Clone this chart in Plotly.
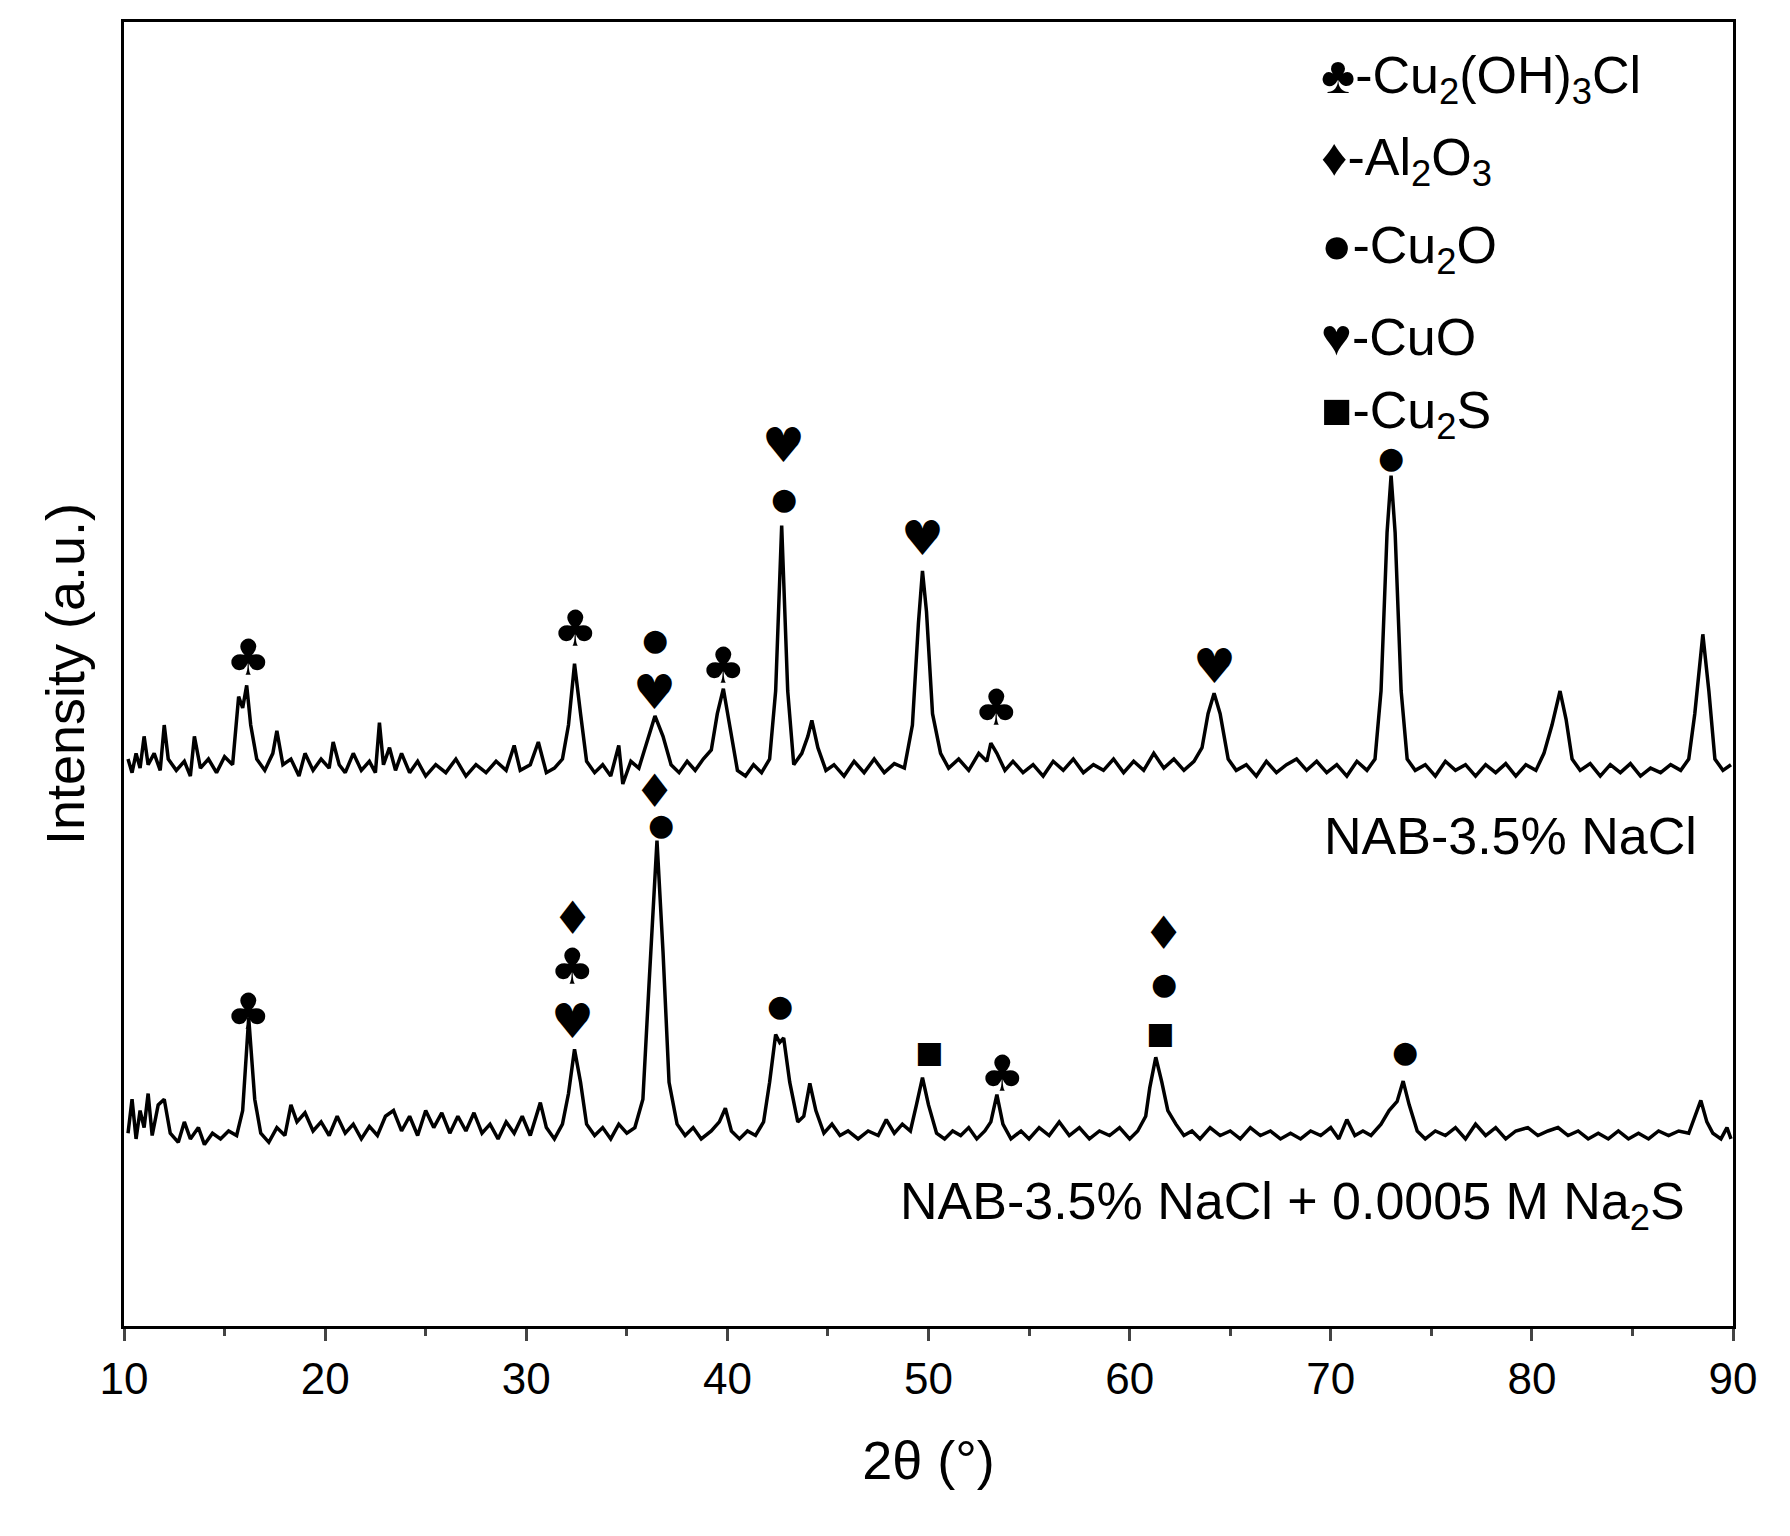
import plotly.graph_objects as go

# XRD patterns: (2theta, intensity a.u., offset included)
top_pts = [(10.2,500),(10.4,488),(10.6,505),(10.8,492),(11.0,520),(11.2,495),(11.5,505),(11.8,490),(12.0,530),(12.2,500),
    (12.6,490),(13.0,498),(13.3,485),(13.5,520),(13.8,492),(14.2,500),(14.6,488),(15.0,502),(15.4,495),(15.7,555),
    (15.9,545),(16.1,565),(16.3,530),(16.6,500),(17.0,490),(17.4,505),(17.6,525),(17.9,495),(18.3,500),(18.7,485),
    (19.0,505),(19.4,490),(19.8,500),(20.2,492),(20.4,515),(20.7,495),(21.0,488),(21.4,505),(21.8,490),(22.2,498),
    (22.5,488),(22.7,532),(22.9,495),(23.2,510),(23.5,490),(23.8,505),(24.2,488),(24.6,498),(25.0,485),(25.5,495),
    (26.0,488),(26.5,500),(27.0,485),(27.5,495),(28.0,488),(28.5,498),(29.0,490),(29.4,512),(29.7,490),(30.2,495),
    (30.6,515),(31.0,488),(31.4,492),(31.8,500),(32.1,530),(32.4,584),(32.7,540),(33.0,498),(33.4,488),(33.8,495),
    (34.2,485),(34.6,512),(34.8,478),(35.2,498),(35.6,492),(36.0,515),(36.4,538),(36.8,520),(37.2,495),(37.6,488),
    (38.0,498),(38.4,490),(38.8,500),(39.2,508),(39.5,540),(39.8,562),(40.1,530),(40.5,490),(40.9,485),(41.3,495),
    (41.7,488),(42.1,500),(42.4,560),(42.7,706),(43.0,560),(43.3,495),(43.7,505),(44.0,520),(44.2,534),(44.5,510),
    (44.9,490),(45.3,495),(45.8,485),(46.3,498),(46.8,488),(47.3,500),(47.8,488),(48.3,496),(48.8,492),(49.2,530),
    (49.5,620),(49.7,666),(49.9,630),(50.2,540),(50.6,505),(51.0,492),(51.5,500),(52.0,490),(52.5,505),(52.9,498),
    (53.1,514),(53.4,505),(53.8,490),(54.2,498),(54.7,488),(55.2,495),(55.7,485),(56.2,498),(56.7,490),(57.2,500),
    (57.7,488),(58.2,495),(58.7,490),(59.2,500),(59.7,488),(60.2,498),(60.7,490),(61.2,505),(61.7,492),(62.2,500),
    (62.7,490),(63.2,498),(63.6,510),(63.9,540),(64.2,558),(64.5,540),(64.9,500),(65.3,490),(65.8,495),(66.3,485),
    (66.8,498),(67.3,488),(67.8,495),(68.3,500),(68.8,490),(69.3,498),(69.8,488),(70.3,495),(70.8,485),(71.3,498),
    (71.8,490),(72.2,500),(72.5,560),(72.8,700),(73.0,750),(73.2,700),(73.5,560),(73.8,500),(74.2,490),(74.7,495),
    (75.2,485),(75.7,498),(76.2,490),(76.7,495),(77.2,485),(77.7,495),(78.2,488),(78.7,496),(79.2,485),(79.7,495),
    (80.2,490),(80.6,505),(81.0,530),(81.4,560),(81.7,535),(82.0,500),(82.4,490),(82.9,496),(83.4,485),(83.9,495),
    (84.4,488),(84.9,496),(85.4,485),(85.9,492),(86.4,488),(86.9,495),(87.4,490),(87.8,500),(88.1,540),(88.5,610),
    (88.8,560),(89.1,500),(89.5,490),(89.9,495)]

bot_pts = [(10.2,170),(10.4,200),(10.6,165),(10.8,190),(11.0,175),(11.2,205),(11.4,168),(11.7,195),(12.0,200),(12.3,170),
    (12.7,162),(13.0,180),(13.3,165),(13.7,175),(14.0,160),(14.4,170),(14.8,165),(15.2,172),(15.6,168),(15.9,190),
    (16.2,272),(16.5,200),(16.8,170),(17.2,162),(17.6,175),(18.0,168),(18.3,195),(18.6,180),(19.0,188),(19.4,172),
    (19.8,180),(20.2,168),(20.6,185),(21.0,170),(21.4,178),(21.8,165),(22.2,176),(22.6,168),(23.0,185),(23.4,190),
    (23.8,172),(24.2,185),(24.6,168),(25.0,190),(25.4,175),(25.8,188),(26.2,170),(26.6,185),(27.0,172),(27.4,188),
    (27.8,170),(28.2,178),(28.6,165),(29.0,180),(29.4,170),(29.8,185),(30.2,168),(30.7,197),(31.0,175),(31.4,165),
    (31.8,178),(32.1,205),(32.4,244),(32.7,215),(33.0,178),(33.4,168),(33.8,175),(34.2,165),(34.6,178),(35.0,170),
    (35.4,175),(35.8,200),(36.1,300),(36.5,428),(36.8,330),(37.1,215),(37.5,178),(37.9,168),(38.3,175),(38.7,165),
    (39.2,172),(39.6,180),(39.9,192),(40.2,172),(40.6,165),(41.0,172),(41.4,168),(41.8,180),(42.1,215),(42.4,257),
    (42.6,250),(42.8,254),(43.1,215),(43.5,180),(43.8,185),(44.1,214),(44.4,190),(44.8,170),(45.2,178),(45.6,168),
    (46.0,172),(46.5,165),(47.0,172),(47.5,168),(47.9,182),(48.3,170),(48.7,178),(49.1,172),(49.4,195),(49.7,219),
    (50.0,195),(50.4,170),(50.8,165),(51.2,172),(51.6,168),(52.0,175),(52.4,165),(52.8,172),(53.1,180),(53.4,204),
    (53.7,178),(54.1,165),(54.6,172),(55.0,165),(55.5,175),(56.0,168),(56.5,180),(57.0,168),(57.5,175),(58.0,165),
    (58.5,172),(59.0,168),(59.5,175),(60.0,165),(60.4,172),(60.8,185),(61.0,210),(61.3,237),(61.6,215),(61.9,190),
    (62.3,178),(62.7,168),(63.1,172),(63.5,165),(64.0,175),(64.5,168),(65.0,172),(65.5,165),(66.0,175),(66.5,168),
    (67.0,172),(67.5,165),(68.0,170),(68.5,165),(69.0,172),(69.5,168),(70.0,175),(70.4,165),(70.8,182),(71.2,168),
    (71.6,172),(72.0,168),(72.5,178),(72.9,190),(73.3,198),(73.6,216),(73.9,195),(74.3,172),(74.7,165),(75.2,172),
    (75.7,168),(76.2,175),(76.7,165),(77.2,178),(77.7,168),(78.2,175),(78.7,165),(79.2,172),(79.8,175),(80.3,168),
    (80.8,172),(81.3,175),(81.8,168),(82.3,172),(82.8,165),(83.3,170),(83.8,165),(84.3,172),(84.8,165),(85.3,170),
    (85.8,165),(86.3,172),(86.8,168),(87.3,172),(87.8,170),(88.1,185),(88.4,199),(88.7,180),(89.0,170),(89.4,165),
    (89.7,175),(89.9,165)]

# phase marks: (symbol, 2theta, height)
top_marks = [("♣",16.2,589),("♣",32.45,615),("●",36.4,605),("♥",36.4,559),("♣",39.8,582),("♥",42.8,777),
             ("●",42.8,730),("♥",49.7,695),("♣",53.4,545),("♥",64.2,582),("●",73.0,766)]
bot_marks = [("♣",16.2,277),("♦",32.3,360),("♣",32.3,317),("♥",32.3,269),("♦",36.4,472),("●",36.7,442),
             ("●",42.6,283),("■",50.0,242),("♣",53.7,222),("♦",61.7,347),("●",61.7,302),("■",61.5,259),
             ("●",73.7,242)]
mark_size = {"♣": 50, "♦": 46, "♥": 48, "●": 30, "■": 30}
legend_items = ["♣-Cu<sub>2</sub>(OH)<sub>3</sub>Cl", "♦-Al<sub>2</sub>O<sub>3</sub>", "●-Cu<sub>2</sub>O",
                "♥-CuO", "■-Cu<sub>2</sub>S"]
legend_y = [1100, 1027, 950, 872, 804]
sample_labels = [("NAB-3.5% NaCl", 88.3, 432),
                 ("NAB-3.5% NaCl + 0.0005 M Na<sub>2</sub>S", 87.7, 107)]

fig = go.Figure()
for pts in (top_pts, bot_pts):
    fig.add_trace(go.Scatter(x=[p[0] for p in pts], y=[p[1] for p in pts], mode="lines",
                             line=dict(color="black", width=3.5), showlegend=False))

font = "Arial, Liberation Sans, sans-serif"
for s, x, y in top_marks + bot_marks:
    fig.add_annotation(x=x, y=y, text=s, showarrow=False,
                       font=dict(size=mark_size[s], color="black", family="DejaVu Sans"))
for t, y in zip(legend_items, legend_y):
    fig.add_annotation(x=69.4, y=y, text=t, xanchor="left", showarrow=False,
                       font=dict(size=52, color="black", family=font))
for t, x, y in sample_labels:
    fig.add_annotation(x=x, y=y, text=t, xanchor="right", showarrow=False,
                       font=dict(size=52, color="black", family=font))

fig.update_layout(
    width=1790, height=1536, plot_bgcolor="white", paper_bgcolor="white",
    margin=dict(l=116, r=65, t=14, b=218),
    font=dict(family=font, color="black"),
)
fig.update_xaxes(range=[10, 90], tickvals=list(range(10, 91, 10)), ticks="outside", ticklen=12, tickwidth=3,
                 minor=dict(dtick=5, ticks="outside", ticklen=7, tickwidth=3),
                 showline=True, linewidth=3, linecolor="black", mirror=True, showgrid=False,
                 tickfont=dict(size=44), title=dict(text="2θ (°)", font=dict(size=54), standoff=40))
fig.update_yaxes(range=[0, 1150], showticklabels=False, ticks="", showline=True, linewidth=3,
                 linecolor="black", mirror=True, showgrid=False, zeroline=False,
                 title=dict(text="Intensity (a.u.)", font=dict(size=54), standoff=20))

fig.write_html("out.html")
